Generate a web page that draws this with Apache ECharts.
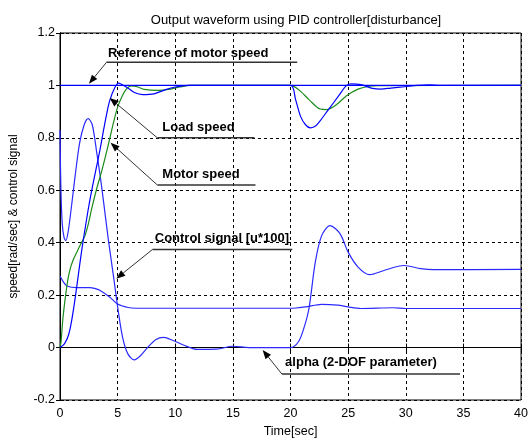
<!DOCTYPE html>
<html><head><meta charset="utf-8">
<script src="https://cdn.jsdelivr.net/npm/echarts@6.0.0/dist/echarts.min.js"></script>
<style>html,body{margin:0;padding:0;background:#fff}#c{width:531px;height:443px}</style>
</head><body><div id="c"></div>
<script>
// ---- data ----
const xTicks = [0,5,10,15,20,25,30,35,40];
const yTicks = [-0.2,0,0.2,0.4,0.6,0.8,1,1.2];

const refT = [0, 40];
const refY = [1, 1];

const loadT = [0,0.4,0.74,1.0,1.31,1.6,1.88,2.2,2.5,2.8,3.17,3.45,3.74,4.0,4.3,4.74,5.1,5.5,5.9,6.45,7.17,8.16,9.16,10.0,11.1,13,20,20.44,20.87,21.3,21.72,22.1,22.43,23.29,24.14,24.86,25.3,26.1,27.0,27.85,28.7,29.9,31,32,33,40];
const loadY = [0,0.015,0.048,0.1,0.187,0.28,0.37,0.46,0.54,0.61,0.69,0.75,0.82,0.88,0.94,0.99,1.009,1.0,0.99,0.973,0.965,0.968,0.984,0.994,1.0,1.0,1.0,0.946,0.882,0.85,0.838,0.843,0.857,0.908,0.958,1.0,1.006,1.003,0.99,0.986,0.99,0.995,1.0,1.002,1.0,1.0];

const motorT = [0,0.09,0.25,0.45,0.65,0.88,1.15,1.46,1.8,2.17,2.45,2.74,3.17,3.6,3.95,4.3,4.65,5.02,5.4,5.74,6.16,6.7,7.3,8.45,9.6,10.4,11.3,20,20.7,21.6,22.57,23.14,24.0,24.86,25.86,26.7,27.6,40];
const motorY = [0,0.023,0.11,0.187,0.25,0.30,0.335,0.364,0.395,0.427,0.47,0.528,0.604,0.67,0.73,0.794,0.86,0.92,0.96,0.985,0.998,0.995,0.985,0.981,0.986,0.994,1.0,1.0,0.984,0.946,0.91,0.908,0.927,0.961,0.986,0.996,0.999,1.0];

const ctrlT = [0,0.08,0.2,0.35,0.5,0.7,1.0,1.3,1.7,2.1,2.45,2.8,3.2,3.5,3.74,4.2,4.67,5.02,5.45,5.9,6.45,7.0,7.6,8.3,9.0,9.8,10.7,11.9,13.6,15,16.4,20,20.7,21.2,21.6,22.15,22.7,23.43,24.3,25.0,25.86,26.86,28.1,29.85,31.3,32.4,40];
const ctrlY = [0.83,0.6,0.47,0.42,0.408,0.44,0.54,0.65,0.78,0.85,0.873,0.85,0.74,0.65,0.57,0.41,0.263,0.149,0.035,-0.025,-0.047,-0.03,0.0,0.03,0.039,0.027,0.01,-0.007,-0.006,0.005,0.0,0.0,0.023,0.08,0.149,0.326,0.427,0.465,0.434,0.364,0.307,0.278,0.294,0.313,0.301,0.297,0.298];

const alphaT = [0,0.3,0.6,1.45,2.6,3.0,3.45,4.3,5.0,5.9,6.6,20,20.5,21.3,22.7,24.1,25,26.1,28.9,30,40];
const alphaY = [0.273,0.25,0.235,0.229,0.229,0.226,0.219,0.193,0.166,0.153,0.15,0.15,0.151,0.155,0.165,0.162,0.155,0.149,0.152,0.149,0.149];

// annotation labels (text, text anchor, underline end, arrow tip) in data units
const annLabels = ['Reference of motor speed','Load speed','Motor speed','Control signal [u*100]','alpha (2-DOF parameter)'];
const annText  = [[4.17,1.123],[8.88,0.838],[8.88,0.659],[8.22,0.415],[19.53,-0.056]];
const annLine0 = [[4.03,1.088],[8.45,0.80],[8.45,0.62],[8.02,0.374],[19.25,-0.101]];
const annLine1 = [[20.58,1.088],[16.87,0.80],[16.96,0.62],[20.15,0.374],[34.7,-0.101]];
const annTip   = [[2.51,1.006],[4.31,0.952],[4.39,0.781],[4.88,0.263],[17.58,-0.009]];

// ---- chart ----
const FONT = 'Liberation Sans, Arial, sans-serif';
function pairs(t, y){ return t.map((v,i)=>[v, y[i]]); }
const chart = echarts.init(document.getElementById('c'), null, {renderer:'canvas'});
const fmtY = v => String(parseFloat(v.toFixed(1)));
const axisCommon = {
  axisLine:{show:true, lineStyle:{color:'#000', width:1}},
  axisTick:{show:true, inside:true, length:4, lineStyle:{color:'#000'}},
};
const lineSeries = (name, t, y, color, smooth) => ({
  name, type:'line', data:pairs(t,y), showSymbol:false, symbol:'none',
  smooth: smooth, lineStyle:{color, width:1.2}, itemStyle:{color}, z:3
});
chart.setOption({
  animation:false,
  backgroundColor:'#fff',
  title:{text:'Output waveform using PID controller[disturbance]', left:291, top:9, textAlign:'center',
    textStyle:{fontFamily:FONT, fontSize:13, fontWeight:'normal', color:'#000'}},
  grid:{left:58, right:6, top:33, bottom:41, show:true, borderColor:'#000', borderWidth:1, containLabel:false},
  xAxis:[
    Object.assign({type:'value', min:0, max:40, interval:5, position:'bottom',
      name:'Time[sec]', nameLocation:'middle', nameGap:25,
      nameTextStyle:{fontFamily:FONT, fontSize:12.5, color:'#000'},
      axisLabel:{fontFamily:FONT, fontSize:12.5, color:'#000', margin:7},
      splitLine:{show:true, lineStyle:{color:'#000', type:[3,3], width:1}}}, axisCommon),
    Object.assign({type:'value', min:0, max:40, interval:5, position:'top',
      axisLabel:{show:false}, splitLine:{show:false}}, axisCommon)
  ],
  yAxis:[
    Object.assign({type:'value', min:-0.2, max:1.2, interval:0.2, position:'left',
      name:'speed[rad/sec] & control signal', nameLocation:'middle', nameGap:40,
      nameTextStyle:{fontFamily:FONT, fontSize:12, color:'#000'},
      axisLabel:{fontFamily:FONT, fontSize:12.5, color:'#000', margin:5, formatter:fmtY},
      splitLine:{show:true, lineStyle:{color:'#000', type:[3,3], width:1}}}, axisCommon),
    Object.assign({type:'value', min:-0.2, max:1.2, interval:0.2, position:'right',
      axisLabel:{show:false}, splitLine:{show:false}}, axisCommon)
  ],
  series:[
    lineSeries('alpha', alphaT, alphaY, '#2a2aff', 0.3),
    lineSeries('control', ctrlT, ctrlY, '#2a2aff', 0.3),
    lineSeries('motor', motorT, motorY, '#1a8a1a', 0.3),
    lineSeries('load', loadT, loadY, '#0000ff', 0.3),
    lineSeries('reference', refT, refY, '#0000ff', false)
  ]
});

// annotations: positioned through the chart's own coordinate conversion
const toPx = p => chart.convertToPixel({xAxisIndex:0, yAxisIndex:0}, p);
const graphics = [];
annLabels.forEach((label, i) => {
  const tp = toPx(annText[i]), a = toPx(annLine0[i]), b = toPx(annLine1[i]), tip = toPx(annTip[i]);
  graphics.push({type:'line', shape:{x1:a[0], y1:a[1], x2:b[0], y2:b[1]}, style:{stroke:'#333', lineWidth:1.5}, z:10});
  const dx = tip[0]-a[0], dy = tip[1]-a[1], L = Math.hypot(dx,dy), ux = dx/L, uy = dy/L;
  const hl = 9, hw = 3.5;
  const bx = tip[0]-ux*hl, by = tip[1]-uy*hl;
  graphics.push({type:'line', shape:{x1:a[0], y1:a[1], x2:bx, y2:by}, style:{stroke:'#333', lineWidth:1}, z:10});
  graphics.push({type:'polygon', shape:{points:[[tip[0],tip[1]],[bx-uy*hw, by+ux*hw],[bx+uy*hw, by-ux*hw]]},
    style:{fill:'#000'}, z:11});
  graphics.push({type:'text', x:tp[0], y:tp[1], style:{text:label, fill:'#000', font:'bold 13px ' + FONT,
    textAlign:'left', textVerticalAlign:'middle'}, z:12});
});
chart.setOption({graphic:graphics});
</script></body></html>
